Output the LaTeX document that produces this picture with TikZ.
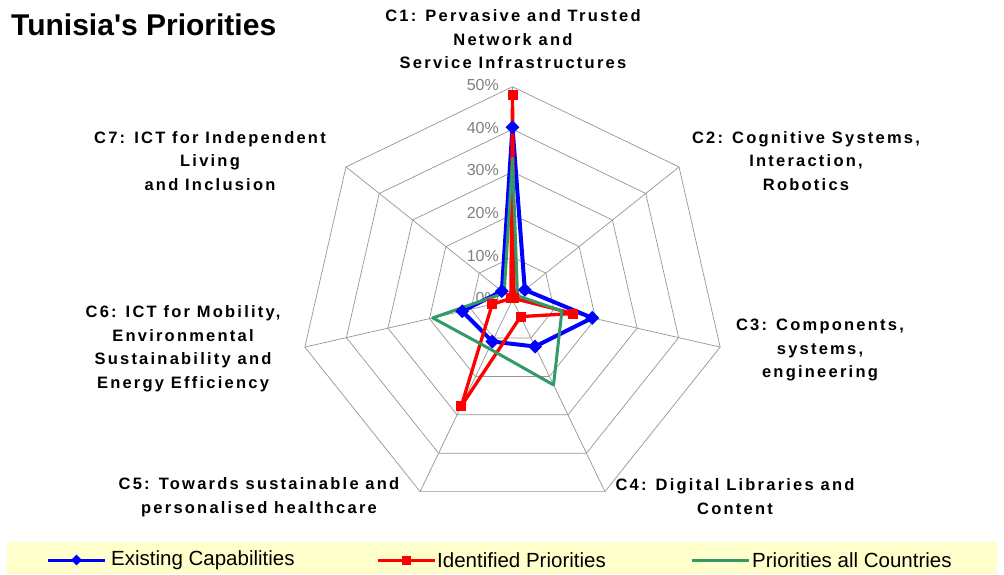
\documentclass[tikz,border=0pt]{standalone}
\usepackage{fontspec}
\setmainfont{Liberation Sans}
\newfontfamily\lblfont[LetterSpace=13.5]{Liberation Sans Bold}
\newfontfamily\titlefont[Ligatures=TeXOff]{Liberation Sans Bold}
\usetikzlibrary{shapes.geometric}
\definecolor{gridgray}{RGB}{150,150,150}
\definecolor{pctgray}{RGB}{128,128,128}
\definecolor{sgreen}{RGB}{51,153,102}
\definecolor{legbg}{RGB}{255,255,204}
\begin{document}
\begin{tikzpicture}[x=1pt,y=-1pt,
  gridline/.style={draw=gridgray,line width=0.7pt},
  catlabel/.style={font=\lblfont\fontsize{16.5}{23.5}\selectfont,align=center,inner sep=0pt},
  pct/.style={font=\fontsize{16}{18}\selectfont,text=pctgray,anchor=east,inner sep=0pt},
  bline/.style={draw=blue,line width=4pt,line join=round},
  rline/.style={draw=red,line width=3.3pt,line join=round},
  gline/.style={draw=sgreen,line width=3pt,line join=round},
  bmark/.style={diamond,fill=blue,minimum size=14pt,inner sep=0pt},
  rmark/.style={rectangle,fill=red,minimum size=10pt,inner sep=0pt},
  legtext/.style={font=\fontsize{20.5}{22}\selectfont,anchor=west,inner sep=0pt},
]
\fill[white] (0,0) rectangle (1004,574);
\useasboundingbox (0,0) rectangle (1004,574);
\coordinate (C) at (512.5,299.7);

% grid rings
\foreach \l in {1,...,5}{
  \draw[gridline] ([shift={(-90:{\l*42.6})}]C)
    \foreach \k in {1,...,6}{ -- ([shift={({\k*360/7-90}:{\l*42.6})}]C)} -- cycle;
}
% spokes
\foreach \k in {0,...,6}{
  \draw[gridline] (C) -- ([shift={({\k*360/7-90}:213)}]C);
}
% percent labels
\foreach \l/\t in {0/0,1/10,2/20,3/30,4/40,5/50}{
  \node[pct] (p\l) at (499,{299.7-42.6*\l-1.5}) {\t\%};
}

% title
\node[font=\titlefont\fontsize{30}{31}\selectfont,anchor=base west,inner sep=0pt] (title) at (11,35.5) {Tunisia's Priorities};

% category labels
\node[catlabel] (c1) at (513,39.5) {C1: Pervasive and Trusted\\Network and\\Service Infrastructures};
\node[catlabel] (c2) at (806,161) {C2: Cognitive Systems,\\Interaction,\\Robotics};
\node[catlabel] (c3) at (820,350) {C3: Components,\\systems,\\engineering};
\node[catlabel] (c4) at (735,496.5) {C4: Digital Libraries and\\Content};
\node[catlabel] (c5) at (259,497) {C5: Towards sustainable and\\personalised healthcare};
\node[catlabel] (c6) at (183,349) {C6: ICT for Mobility,\\Environmental\\Sustainability and\\Energy Efficiency};
\node[catlabel] (c7) at (210,161) {C7: ICT for Independent\\Living\\and Inclusion};

% data points
\foreach \v [count=\k] in {40.5,3.7,19.2,12.2,10.9,12.1,3.2}
  \coordinate (b\k) at ([shift={({(\k-1)*360/7-90}:{\v*4.26})}]C);
\foreach \v [count=\k] in {48,0.5,14.6,4.4,27.7,4.9,0.5}
  \coordinate (r\k) at ([shift={({(\k-1)*360/7-90}:{\v*4.26})}]C);
\foreach \v [count=\k] in {33.2,1.5,11.9,22.2,12.7,19.2,2.5}
  \coordinate (g\k) at ([shift={({(\k-1)*360/7-90}:{\v*4.26})}]C);

\draw[bline] (b1) -- (b2) -- (b3) -- (b4) -- (b5) -- (b6) -- (b7) -- cycle;
\draw[rline] (r1) -- (r2) -- (r3) -- (r4) -- (r5) -- (r6) -- (r7) -- cycle;
\draw[gline] (g1) -- (g2) -- (g3) -- (g4) -- (g5) -- (g6) -- (g7) -- cycle;
\foreach \k in {1,...,7}{ \node[bmark] (bm\k) at (b\k) {}; }
\foreach \k in {1,...,7}{ \node[rmark] (rm\k) at (r\k) {}; }

% legend
\fill[legbg] (7,541.7) rectangle (997,574);
\coordinate (lb1) at (48,560); \coordinate (lb2) at (105,560);
\draw[bline,line width=3pt] (lb1) -- (lb2);
\node[bmark,minimum size=11pt] (lbm) at (76.5,560) {};
\node[legtext] (lbt) at (111,560) {Existing Capabilities};
\coordinate (lr1) at (378,560); \coordinate (lr2) at (435,560);
\draw[rline,line width=3pt] (lr1) -- (lr2);
\node[rmark,minimum size=9pt] (lrm) at (406.5,560) {};
\node[legtext] (lrt) at (437,560) {Identified Priorities};
\coordinate (lg1) at (692,560); \coordinate (lg2) at (749,560);
\draw[gline] (lg1) -- (lg2);
\node[legtext] (lgt) at (752,560) {Priorities all Countries};
\end{tikzpicture}
\end{document}
